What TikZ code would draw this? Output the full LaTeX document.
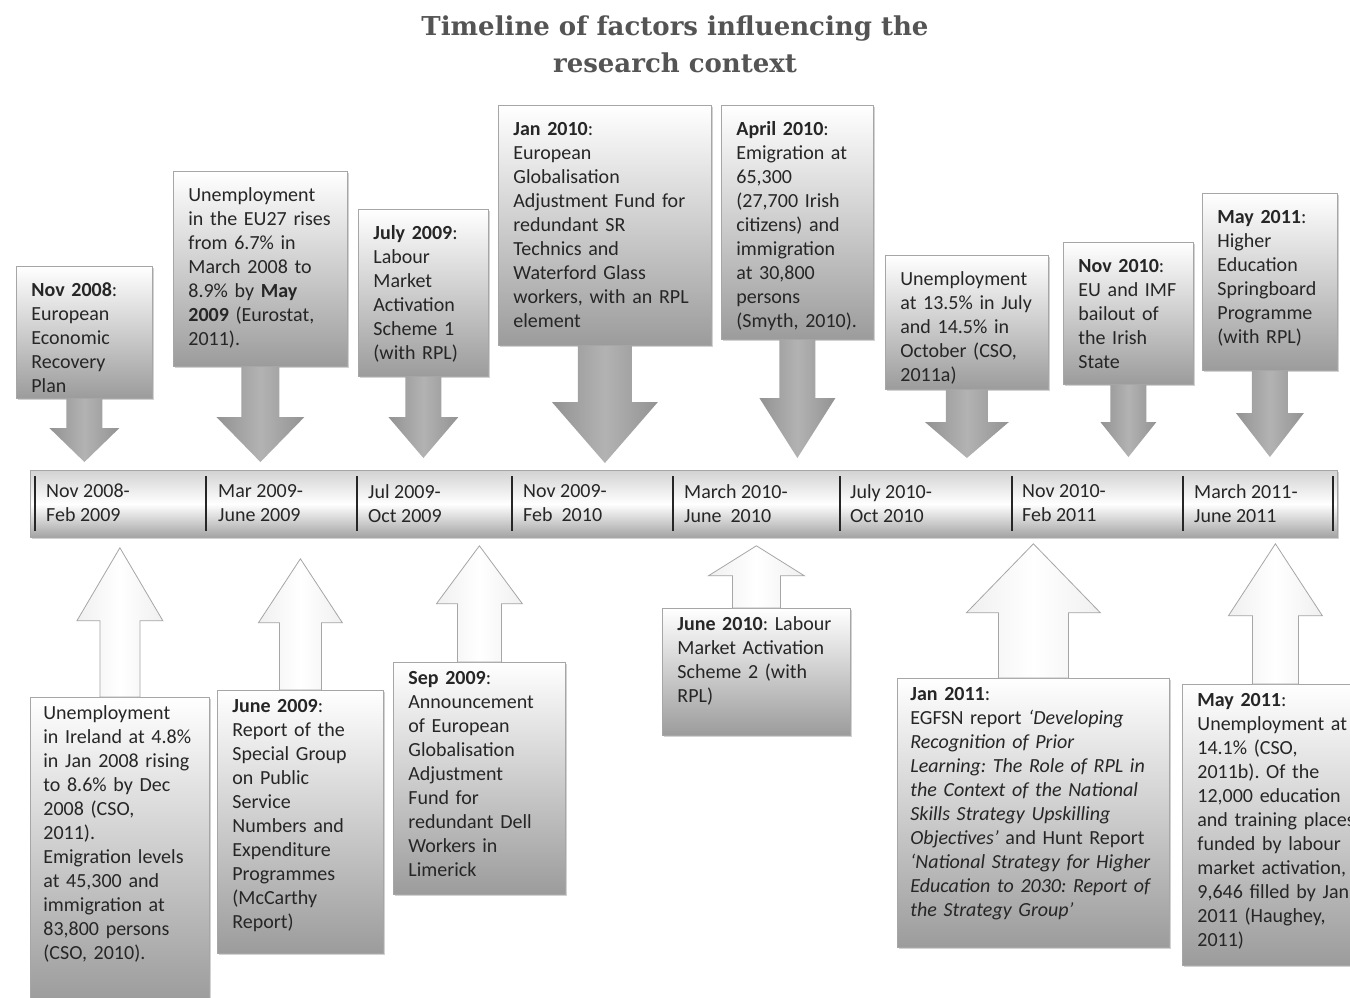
\documentclass[tikz,border=0pt]{standalone}
\usepackage{fontspec}
\setmainfont{Carlito}
\newfontfamily\titlefont{DejaVu Serif}
\usetikzlibrary{calc,shadows}
\frenchspacing

% block arrow: style, start, tip, half shaft, half head, head length
\newcommand{\blockarr}[6]{%
  \path[#1] let \p1=(#2), \p2=(#3), \p3=($(\p2)!#6pt!(\x2,\y1)$) in
    (\x2-#4pt,\y1) -- (\x2-#4pt,\y3) -- (\x2-#5pt,\y3) -- (\p2)
    -- (\x2+#5pt,\y3) -- (\x2+#4pt,\y3) -- (\x2+#4pt,\y1) -- cycle;}

\begin{document}
\begin{tikzpicture}[x=1pt, y=-1pt,
    txt/.style={font=\fontsize{20}{24}\selectfont, text=black!85},
    evbox/.style={txt, draw=gray!70, line width=0.8pt, top color=white, bottom color=gray!78,
      drop shadow={shadow xshift=2pt, shadow yshift=-2pt, opacity=0.35},
      anchor=north west, align=left, inner xsep=15pt, text height=14pt},
    topbox/.style 2 args={evbox, inner ysep=16pt, text width=#1pt, text depth=#2pt},
    botbox/.style 2 args={evbox, inner ysep=8pt, text width=#1pt, text depth=#2pt},
    downarr/.style={left color=gray!85, right color=gray!85, middle color=gray!60},
    uparr/.style={draw=gray!70, line width=0.8pt, left color=gray!12, right color=gray!12, middle color=white},
    barbox/.style={draw=gray!70, line width=0.8pt, top color=gray!35, bottom color=gray!72, middle color=white,
      drop shadow={shadow xshift=2pt, shadow yshift=-2pt, opacity=0.35}},
    period/.style={txt, anchor=north west, align=left, inner sep=0pt},
    sepline/.style={black!85, line width=1.4pt}]
    \useasboundingbox[fill=white] (0,0) rectangle (1350,998);

    % title
    \node[font=\titlefont\bfseries\fontsize{26}{37}\selectfont, text=black!67, align=center] (title) at (675,44)
      {Timeline of factors influencing the\\research context};

    % timeline bar
    \node[barbox, minimum width=1307pt, minimum height=67pt, anchor=north west] (bar) at (30,470) {};
    \foreach \x in {35,206,357,512,673,840,1012,1183,1333}
      \draw[sepline] (\x,476) -- (\x,531);
    \foreach \x/\txt [count=\i] in {46/{Nov 2008-\\Feb 2009}, 218/{Mar 2009-\\June 2009},
        368/{Jul 2009-\\Oct 2009}, 523/{Nov 2009-\\Feb~~2010}, 684/{March 2010-\\June~~2010},
        850/{July 2010-\\Oct 2010}, 1022/{Nov 2010-\\Feb 2011}, 1194/{March 2011-\\June 2011}}
      \node[period] (per\i) at (\x,484) {\txt};

    % events above the line
    \node[topbox={106}{86}] (nov08) at (16,266) {\textbf{Nov 2008}:\\European\\Economic\\Recovery\\Plan};
    \node[topbox={144}{149}] (eu27) at (173,171) {Unemployment\\in the EU27 rises\\from 6.7\% in\\March 2008 to\\8.9\% by \textbf{May}\\\textbf{2009} (Eurostat,\\2011).};
    \node[topbox={100}{121}] (jul09) at (358,209) {\textbf{July 2009}:\\Labour\\Market\\Activation\\Scheme 1\\(with RPL)};
    \node[topbox={183}{194}] (jan10) at (498,105) {\textbf{Jan 2010}:\\European\\Globalisation\\Adjustment Fund for\\redundant SR\\Technics and\\Waterford Glass\\workers, with an RPL\\element};
    \node[topbox={122}{188}] (apr10) at (721,105) {\textbf{April 2010}:\\Emigration at\\65,300\\(27,700 Irish\\citizens) and\\immigration\\at 30,800\\persons\\(Smyth, 2010).};
    \node[topbox={133}{88}] (oct10) at (885,255) {Unemployment\\at 13.5\% in July\\and 14.5\% in\\October (CSO,\\2011a)};
    \node[topbox={100}{96}] (nov10) at (1063,242) {\textbf{Nov 2010}:\\EU and IMF\\bailout of\\the Irish\\State};
    \node[topbox={105}{131}] (may11) at (1202,193) {\textbf{May 2011}:\\Higher\\Education\\Springboard\\Programme\\(with RPL)};

    % events below the line
    \node[botbox={153}{275}, inner xsep=13pt] (ire08) at (30,697) {Unemployment\\in Ireland at 4.8\%\\in Jan 2008 rising\\to 8.6\% by Dec\\2008 (CSO,\\2011).\\Emigration levels\\at 45,300 and\\immigration at\\83,800 persons\\(CSO, 2010).};
    \node[botbox={136}{233}] (jun09) at (217,690) {\textbf{June 2009}:\\Report of the\\Special Group\\on Public\\Service\\Numbers and\\Expenditure\\Programmes\\(McCarthy\\Report)};
    \node[botbox={142}{202}] (sep09) at (393,662) {\textbf{Sep 2009}:\\Announcement\\of European\\Globalisation\\Adjustment\\Fund for\\redundant Dell\\Workers in\\Limerick};
    \node[botbox={158}{97}] (jun10) at (662,608) {\textbf{June 2010}: Labour\\Market Activation\\Scheme 2 (with\\RPL)};
    \node[botbox={246}{239}, inner xsep=13pt] (jan11) at (897,678) {\textbf{Jan 2011}:\\EGFSN report {\itshape `Developing\\Recognition of Prior\\Learning: The Role of RPL in\\the Context of the National\\Skills Strategy Upskilling\\Objectives'} and Hunt Report\\{\itshape `National Strategy for Higher\\Education to 2030: Report of\\the Strategy Group'}};
    \node[botbox={164}{251}] (may11b) at (1182,684) {\textbf{May 2011}:\\Unemployment at\\14.1\% (CSO,\\2011b). Of the\\12,000 education\\and training places\\funded by labour\\market activation,\\9,646 filled by Jan\\2011 (Haughey,\\2011)};

    % arrows down to the line
    \blockarr{downarr}{nov08.south}{$(nov08.south |- bar.north)+(0,-8)$}{18}{35}{34}
    \blockarr{downarr}{eu27.south}{$(eu27.south |- bar.north)+(0,-8)$}{19}{44}{45}
    \blockarr{downarr}{jul09.south}{$(jul09.south |- bar.north)+(0,-12)$}{18}{35}{41}
    \blockarr{downarr}{jan10.south}{$(jan10.south |- bar.north)+(0,-7)$}{27}{53}{61}
    \blockarr{downarr}{apr10.south}{$(apr10.south |- bar.north)+(0,-12)$}{18}{38}{60}
    \blockarr{downarr}{oct10.south}{$(oct10.south |- bar.north)+(0,-12)$}{21}{42}{36}
    \blockarr{downarr}{nov10.south}{$(nov10.south |- bar.north)+(0,-13)$}{18}{28}{35}
    \blockarr{downarr}{may11.south}{$(may11.south |- bar.north)+(0,-13)$}{18}{34}{44}

    % arrows up to the line
    \blockarr{uparr}{ire08.north}{$(ire08.north |- bar.south)+(0,10)$}{20}{43}{73}
    \blockarr{uparr}{jun09.north}{$(jun09.north |- bar.south)+(0,21)$}{21}{42}{64}
    \blockarr{uparr}{sep09.north}{$(sep09.north |- bar.south)+(0,8)$}{22}{43}{58}
    \blockarr{uparr}{jun10.north}{$(jun10.north |- bar.south)+(0,8)$}{24}{48}{30}
    \blockarr{uparr}{jan11.north}{$(jan11.north |- bar.south)+(0,6)$}{35}{67}{69}
    \blockarr{uparr}{may11b.north}{$(may11b.north |- bar.south)+(-4,6)$}{23}{47}{72}
\end{tikzpicture}
\end{document}
